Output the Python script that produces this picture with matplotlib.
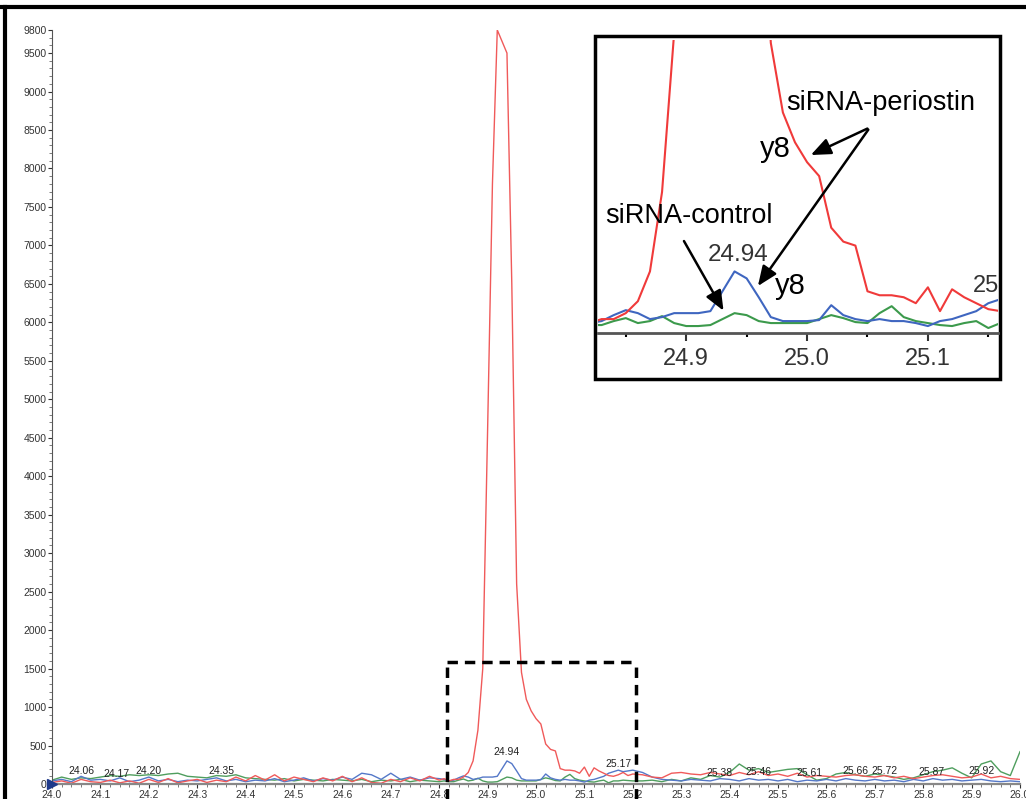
import numpy as np
import matplotlib.pyplot as plt
from matplotlib.lines import Line2D
from matplotlib.patches import Rectangle

plt.rcParams['font.family'] = ['Liberation Sans', 'DejaVu Sans']

# retention time grid (min): coarse in the background, fine around the peak
rt = np.round(np.concatenate([np.arange(24.00, 24.801, 0.02),
                              np.arange(24.81, 25.201, 0.01),
                              np.arange(25.22, 26.001, 0.02)]), 2)

# siRNA-periostin (red)
red = [20, 40, 10, 60, 30, 20, 50, 15, 40, 10, 60, 20, 70, 15, 40, 60, 20, 50, 30, 90,
       40, 110, 50, 120, 40, 90, 60, 30, 80, 40, 100, 30, 80, 20, 10, 60, 30, 80, 40, 100, 50,
       70, 40, 60, 60, 90, 150, 300, 700, 1500, 4600, 7800, 9800, 9650, 9500, 6500, 2600,
       1450, 1100, 950, 850, 780, 520, 450, 430, 200, 180, 180, 170, 140, 220, 100, 210, 170,
       140, 110, 100, 120, 150, 110, 130,
       120, 90, 80, 140, 150, 130, 120, 150, 130, 110, 150, 120, 160, 110, 130, 100, 140, 90,
       110, 100, 90, 110, 120, 100, 90, 110, 80, 100, 70, 90, 110, 120, 100, 80, 90, 130, 80,
       100, 70, 60]

# siRNA-control (blue)
blue = [40, 60, 30, 100, 50, 60, 40, 80, 30, 50, 90, 40, 60, 30, 50, 40, 60, 80, 40, 60,
        30, 50, 40, 70, 30, 50, 80, 40, 70, 50, 90, 60, 140, 120, 60, 140, 60, 90, 50, 80, 70,
        60, 40, 50, 80, 105, 90, 60, 70, 90, 90, 90, 100, 200, 300, 265, 170, 70, 50, 50, 50,
        55, 130, 80, 60, 50, 60, 50, 50, 40, 25, 50, 60, 80, 100, 140, 160, 180, 160, 170, 180,
        150, 90, 60, 50, 40, 60, 50, 40, 70, 60, 40, 70, 50, 60, 40, 60, 30, 50, 40, 60, 40,
        70, 50, 40, 60, 40, 50, 30, 60, 40, 70, 50, 60, 40, 50, 60, 40, 30, 40, 30]

# third trace (green)
green = [50, 90, 60, 80, 70, 90, 110, 100, 120, 110, 120, 110, 130, 140, 100, 90, 80, 110,
         100, 120, 80, 70, 60, 50, 70, 40, 60, 50, 40, 60, 50, 40, 60, 30, 50, 40, 60, 30, 50,
         40, 30,
         40, 30, 30, 50, 65, 40, 50, 75, 40, 25, 25, 30, 60, 90, 80, 50, 40, 40, 40, 40, 60, 80,
         65, 45, 40, 90, 125, 70, 50, 40, 30, 25, 40, 50, 15, 40, 40, 50, 45, 40,
         40, 50, 30, 60, 40, 80, 60, 110, 90, 150, 260, 180, 200, 150, 170, 190, 200, 120, 50,
         70, 130, 150, 120, 100, 130, 110, 90, 60, 80, 120, 160, 180, 210, 140, 80, 260, 300,
         160, 110, 420]

# labelled peak apexes and the label heights as printed
peak_labels = [24.06, 24.17, 24.20, 24.35, 24.94, 25.17, 25.38, 25.46, 25.61, 25.66,
               25.72, 25.87, 25.92]
label_height = [165, 125, 175, 175, 420, 265, 140, 150, 140, 165, 165, 150, 165]
label_shift = {24.17: -18, 25.61: -22, 25.87: -26}   # pixels, to keep labels apart

x_ticks = np.round(np.arange(24.0, 26.01, 0.1), 1)
y_ticks = [0, 500, 1000, 1500, 2000, 2500, 3000, 3500, 4000, 4500, 5000, 5500, 6000,
           6500, 7000, 7500, 8000, 8500, 9000, 9500, 9800]

C_RED = '#f05a5a'
C_BLUE = '#5578c8'
C_GREEN = '#4f9e5e'

fig = plt.figure(figsize=(10.26, 7.99), dpi=100)

# main chromatogram
ax = fig.add_axes([52 / 1026, 15 / 799, 968 / 1026, 754 / 799])
ax.plot(rt, green, color=C_GREEN, lw=1)
ax.plot(rt, blue, color=C_BLUE, lw=1)
ax.plot(rt, red, color=C_RED, lw=1)
ax.set_xlim(24.0, 26.0)
ax.set_ylim(0, 9800)
ax.set_xticks(x_ticks)
ax.set_xticklabels(['%.1f' % t for t in x_ticks])
ax.set_xticks(np.arange(24.0, 26.0, 0.02), minor=True)
ax.set_yticks(y_ticks)
ax.set_yticks(np.arange(0, 9800, 100), minor=True)
ax.tick_params(labelsize=7.5, colors='#333333', length=3, width=0.8, pad=1)
ax.tick_params(which='minor', length=2, width=0.6, colors='#666666')
for s in ['top', 'right']:
    ax.spines[s].set_visible(False)
ax.spines['left'].set_color('#555555')
ax.spines['bottom'].set_color('#888888')
ax.spines['bottom'].set_linewidth(1.6)
ax.plot([24.0], [0], marker='>', color='#1f3a8a', ms=7, clip_on=False, zorder=5)

for p, h in zip(peak_labels, label_height):
    ax.annotate('%.2f' % p, (p, h), xytext=(label_shift.get(p, 0) * 0.72, 0),
                textcoords='offset points', ha='center', va='center',
                fontsize=7.5, color='#222222')

# dashed zoom window
for xx in [24.816, 25.207]:
    ax.add_line(Line2D([xx, xx], [-200, 1580], color='black', lw=2.5, ls=(0, (3, 2)),
                       clip_on=False))
ax.add_line(Line2D([24.816, 25.207], [1580, 1580], color='black', lw=2.5, ls=(0, (3, 2)),
                   clip_on=False))

# outer frame of the figure
fig.add_artist(Line2D([0, 1], [1 - 7 / 799, 1 - 7 / 799], color='black', lw=3))
fig.add_artist(Line2D([5 / 1026, 5 / 1026], [0, 1 - 7 / 799], color='black', lw=3))

# inset frame
fig.add_artist(Rectangle((595 / 1026, 1 - 379 / 799), 405 / 1026, 343 / 799,
                         facecolor='white', edgecolor='black', lw=2.5, zorder=2))

# inset
axi = fig.add_axes([598 / 1026, 1 - 333 / 799, 400 / 1026, 293 / 799], zorder=3)
axi.patch.set_alpha(0)
axi.plot(rt, green, color='#3c9a4c', lw=1.5)
axi.plot(rt, blue, color='#3f66c0', lw=1.5)
axi.plot(rt, red, color='#f03a3a', lw=1.5)
axi.set_xlim(24.827, 25.158)
axi.set_ylim(-10, 1465)
axi.set_yticks([])
axi.set_xticks([24.9, 25.0, 25.1])
axi.set_xticklabels(['24.9', '25.0', '25.1'])
axi.set_xticks([24.85, 24.95, 25.05, 25.15], minor=True)
axi.tick_params(labelsize=17, colors='#333333', length=6, width=1.5, pad=5)
axi.tick_params(which='minor', length=3, width=1.5)
for s in ['top', 'right', 'left']:
    axi.spines[s].set_visible(False)
axi.spines['bottom'].set_color('#555555')
axi.spines['bottom'].set_linewidth(2)

axi.text(24.943, 385, '24.94', ha='center', va='center', fontsize=17.5, color='#333333')
axi.text(25.162, 225, '25.17', ha='center', va='center', fontsize=17, color='#333333',
         clip_on=True)
axi.text(25.061, 1150, 'siRNA-periostin', ha='center', va='center', fontsize=19.5)
axi.text(24.974, 915, 'y8', ha='center', va='center', fontsize=21)
axi.text(24.986, 225, 'y8', ha='center', va='center', fontsize=21)
axi.text(24.902, 580, 'siRNA-control', ha='center', va='center', fontsize=19.5)
arrow = dict(arrowstyle='-|>,head_length=0.6,head_width=0.25', color='black', lw=1.8,
             mutation_scale=20)
axi.annotate('', xy=(25.001, 880), xytext=(25.052, 1025), arrowprops=arrow)
axi.annotate('', xy=(24.958, 215), xytext=(25.052, 1025), arrowprops=arrow)
axi.annotate('', xy=(24.932, 90), xytext=(24.897, 465), arrowprops=arrow)

fig.savefig('out.png', dpi=100)
